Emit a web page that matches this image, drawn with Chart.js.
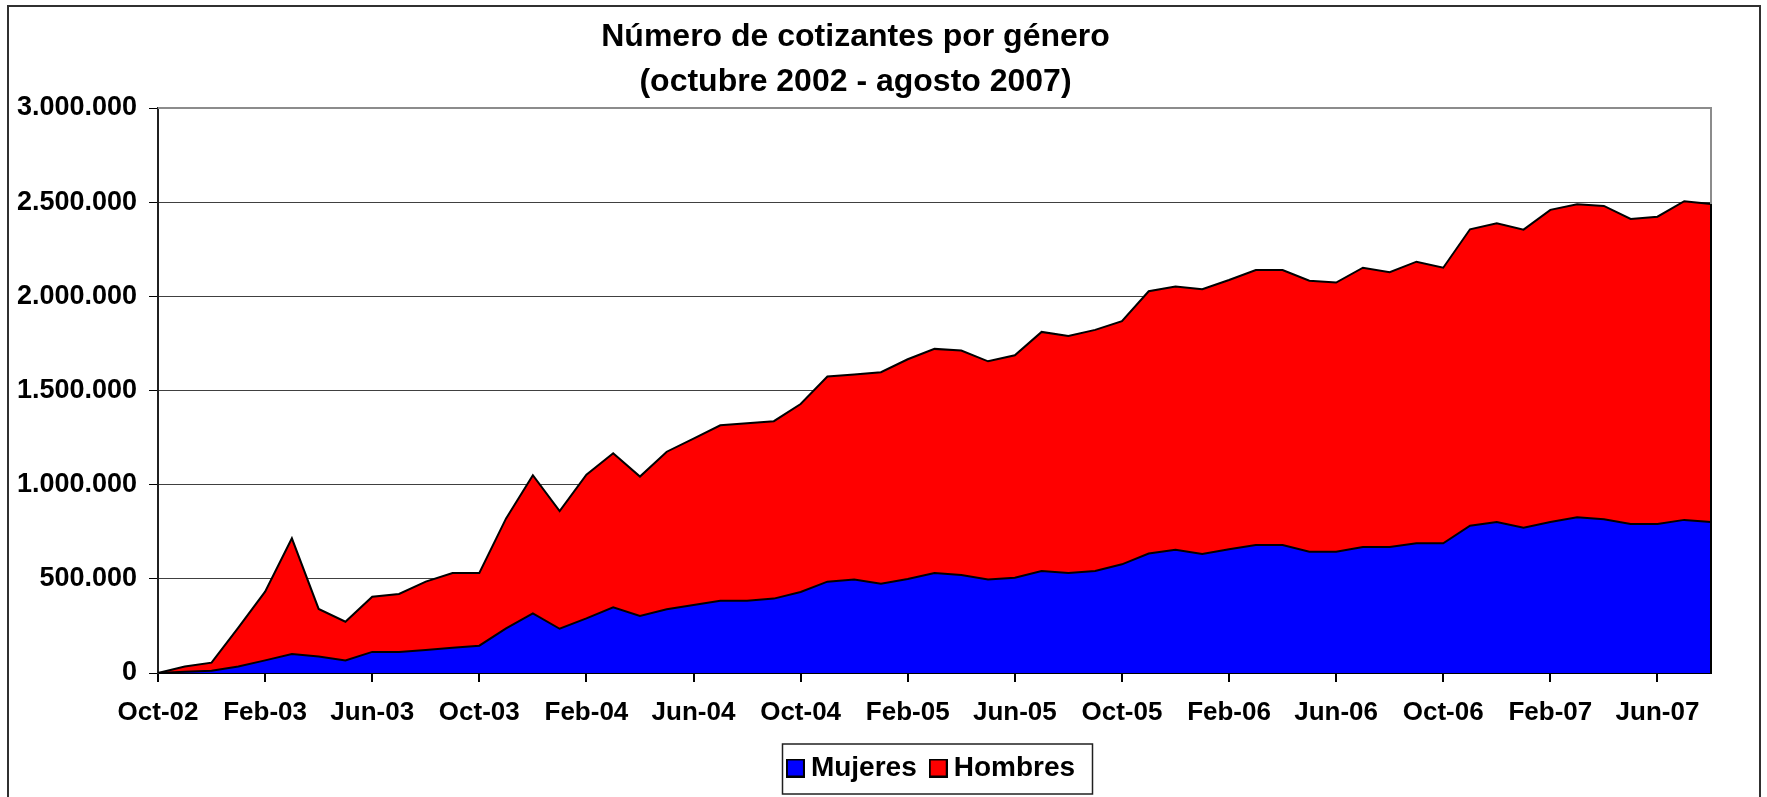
<!DOCTYPE html>
<html>
<head>
<meta charset="utf-8">
<script src="https://cdn.jsdelivr.net/npm/chart.js@4.4.0/dist/chart.umd.min.js"></script>
<style>
  html, body { margin: 0; padding: 0; background: #fff; overflow: hidden; }
  canvas { display: block; }
</style>
</head>
<body>
<canvas id="chart" width="1767" height="797"></canvas>
<script>
// months Oct-02 .. Aug-07
const months = [
  "Oct-02", "Nov-02", "Dec-02",
  "Jan-03", "Feb-03", "Mar-03", "Apr-03", "May-03", "Jun-03", "Jul-03", "Aug-03", "Sep-03", "Oct-03", "Nov-03", "Dec-03",
  "Jan-04", "Feb-04", "Mar-04", "Apr-04", "May-04", "Jun-04", "Jul-04", "Aug-04", "Sep-04", "Oct-04", "Nov-04", "Dec-04",
  "Jan-05", "Feb-05", "Mar-05", "Apr-05", "May-05", "Jun-05", "Jul-05", "Aug-05", "Sep-05", "Oct-05", "Nov-05", "Dec-05",
  "Jan-06", "Feb-06", "Mar-06", "Apr-06", "May-06", "Jun-06", "Jul-06", "Aug-06", "Sep-06", "Oct-06", "Nov-06", "Dec-06",
  "Jan-07", "Feb-07", "Mar-07", "Apr-07", "May-07", "Jun-07", "Jul-07", "Aug-07",
];

const mujeres = [
  0, 7000, 12000,
  34000, 67000, 101000, 87000, 67000, 112000, 112000, 122000, 134000, 145000, 237000, 317000,
  235000, 290000, 349000, 303000, 338000, 361000, 384000, 384000, 395000, 430000, 485000, 496000,
  474000, 499000, 531000, 520000, 496000, 506000, 542000, 531000, 542000, 577000, 634000, 655000,
  632000, 657000, 680000, 680000, 644000, 644000, 669000, 669000, 689000, 689000, 782000, 802000,
  772000, 802000, 827000, 816000, 791000, 791000, 813000, 802000,
];

const hombres = [
  0, 27000, 43000,
  207000, 365000, 614000, 253000, 205000, 293000, 308000, 363000, 397000, 386000, 584000, 733000,
  625000, 763000, 818000, 740000, 837000, 884000, 931000, 942000, 942000, 998000, 1089000, 1089000,
  1123000, 1167000, 1190000, 1192000, 1159000, 1181000, 1269000, 1259000, 1280000, 1291000, 1393000, 1397000,
  1406000, 1430000, 1460000, 1460000, 1439000, 1429000, 1483000, 1459000, 1495000, 1463000, 1574000, 1586000,
  1582000, 1657000, 1662000, 1664000, 1620000, 1632000, 1692000, 1688000,
];

const titleLines = ["Número de cotizantes por género", "(octubre 2002 - agosto 2007)"];

const FONT = "'Liberation Sans', Arial, Helvetica, sans-serif";

function fmt(v) {
  return String(v).replace(/\B(?=(\d{3})+(?!\d))/g, ".");
}

// small square used as legend marker (Excel puts the text close to the box)
function swatch(color) {
  const c = document.createElement("canvas");
  c.width = 19;
  c.height = 19;
  const g = c.getContext("2d");
  g.fillStyle = color;
  g.fillRect(0, 0, 19, 19);
  g.strokeStyle = "#000";
  g.lineWidth = 2;
  g.strokeRect(1, 1, 17, 17);
  return c;
}

// outer frame, plot border, legend box
const framePlugin = {
  id: "frame",
  beforeDraw(chart) {
    const ctx = chart.ctx;
    ctx.save();
    ctx.strokeStyle = "#303030";
    ctx.lineWidth = 2;
    ctx.strokeRect(8, 6, 1752, 830);
    ctx.restore();
  },
  afterDraw(chart) {
    const { ctx, chartArea, scales } = chart;
    const last = months.length - 1;
    const topY = scales.y.getPixelForValue(mujeres[last] + hombres[last]);
    ctx.save();
    ctx.lineWidth = 2;
    ctx.strokeStyle = "#8c8c8c";
    ctx.beginPath();
    ctx.moveTo(chartArea.left, chartArea.top);
    ctx.lineTo(chartArea.right, chartArea.top);
    ctx.lineTo(chartArea.right, topY);
    ctx.stroke();
    ctx.strokeStyle = "#000";
    ctx.beginPath();
    ctx.moveTo(chartArea.right, topY);
    ctx.lineTo(chartArea.right, chartArea.bottom);
    ctx.stroke();

    const lg = chart.legend;
    const cx = (chartArea.left + chartArea.right) / 2;
    ctx.strokeStyle = "#202020";
    ctx.lineWidth = 1.5;
    ctx.strokeRect(cx - 152, lg.top + 10, 310, 50);
    ctx.restore();
  },
};

new Chart(document.getElementById("chart"), {
  type: "line",
  data: {
    labels: months,
    datasets: [
      {
        label: "Mujeres",
        data: mujeres,
        backgroundColor: "#0000ff",
        borderColor: "#000000",
        borderWidth: 2,
        fill: "origin",
        pointRadius: 0,
        pointStyle: swatch("#0000ff"),
        tension: 0,
      },
      {
        label: "Hombres",
        data: hombres,
        backgroundColor: "#ff0000",
        borderColor: "#000000",
        borderWidth: 2,
        fill: "-1",
        pointRadius: 0,
        pointStyle: swatch("#ff0000"),
        tension: 0,
      },
    ],
  },
  options: {
    responsive: false,
    animation: false,
    devicePixelRatio: 1,
    layout: { padding: { left: 0, right: 56, top: 0, bottom: 5 } },
    plugins: {
      title: {
        display: true,
        text: titleLines,
        color: "#000",
        font: { family: FONT, size: 32, weight: "bold", lineHeight: 1.40625 },
        padding: { top: 15, bottom: 3 },
      },
      legend: {
        position: "bottom",
        fullSize: false,
        labels: {
          color: "#000",
          usePointStyle: true,
          pointStyleWidth: 3,
          boxWidth: 19,
          boxHeight: 19,
          padding: 20,
          font: { family: FONT, size: 28, weight: "bold" },
        },
      },
      tooltip: { enabled: false },
    },
    scales: {
      x: {
        offset: false,
        grid: { drawOnChartArea: false, tickLength: 9, tickColor: "#000", lineWidth: 2 },
        border: { color: "#000", width: 2 },
        ticks: {
          autoSkip: false,
          maxRotation: 0,
          padding: 15,
          color: "#000",
          font: { family: FONT, size: 26, weight: "bold" },
          callback: (v, i) => (i % 4 === 0 ? months[i] : null),
        },
        afterFit(s) { s.height = 61; },
      },
      y: {
        stacked: true,
        min: 0,
        max: 3000000,
        grid: { color: "#404040", lineWidth: 1, tickLength: 9, tickColor: "#000" },
        border: { color: "#202020", width: 2 },
        ticks: {
          stepSize: 500000,
          padding: 12,
          color: "#000",
          font: { family: FONT, size: 27, weight: "bold" },
          callback: (v) => fmt(v),
        },
        afterFit(s) { s.width = 158; },
      },
    },
  },
  plugins: [framePlugin],
});
</script>
</body>
</html>
